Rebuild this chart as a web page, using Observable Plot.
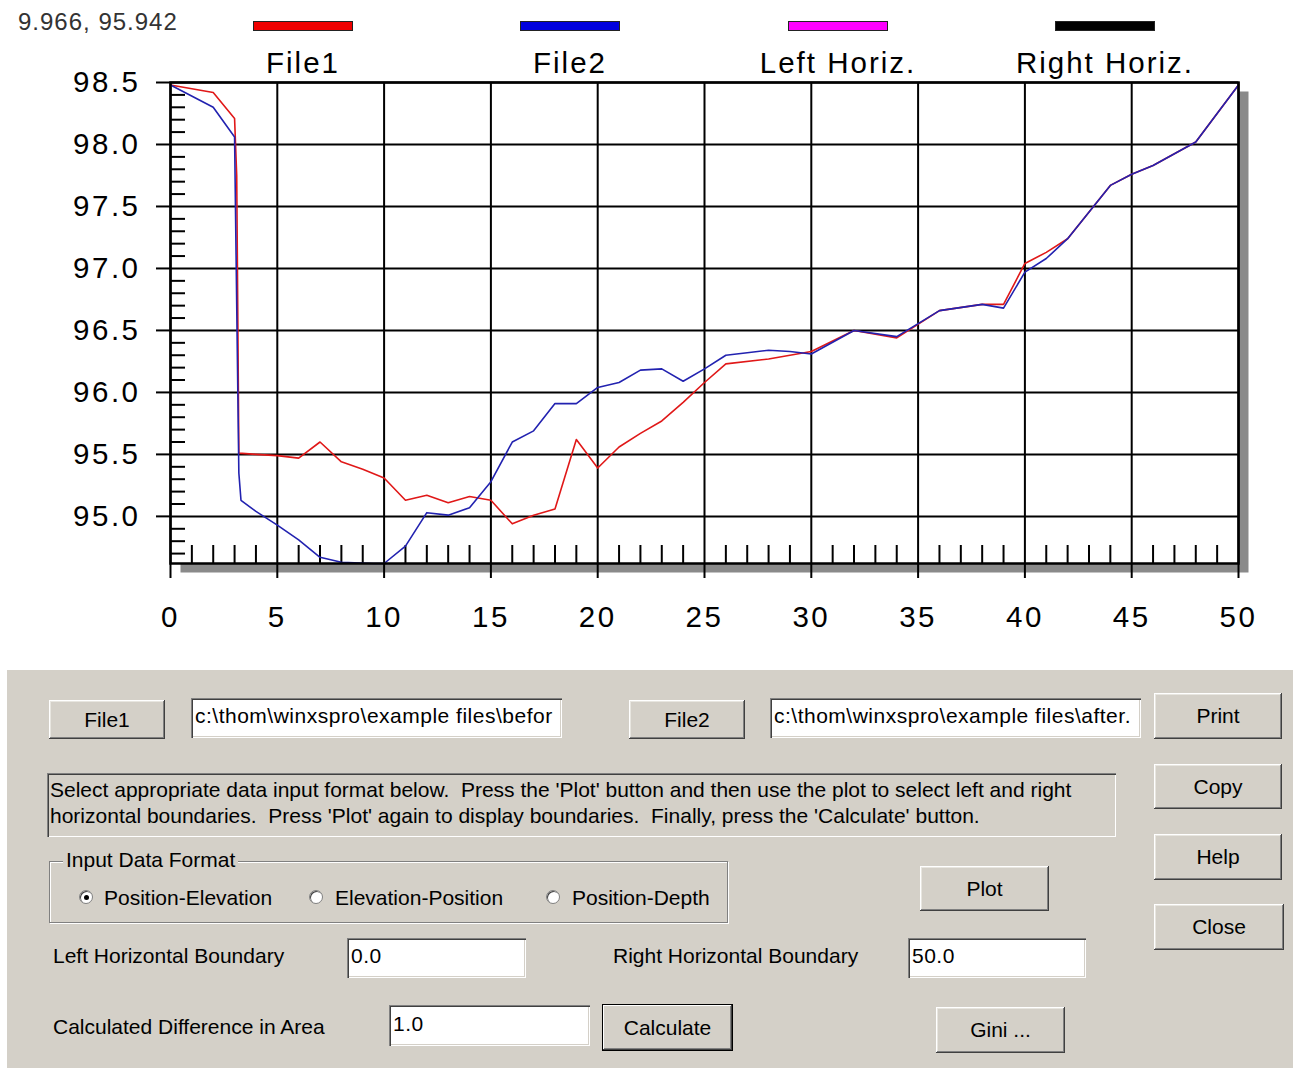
<!DOCTYPE html>
<html><head><meta charset="utf-8">
<script src="https://cdn.jsdelivr.net/npm/d3@7"></script>
<script src="https://cdn.jsdelivr.net/npm/@observablehq/plot@0.6"></script>
<style>
body{margin:0;background:#fff;font-family:"Liberation Sans",Arial,sans-serif;color:#000;}
#page{position:relative;width:1293px;height:1068px;overflow:hidden;background:#fff;}
#chart{position:absolute;left:0;top:0;}
#chart svg text{letter-spacing:2.5px;}
.abs{position:absolute;white-space:pre;}
#readout{position:absolute;left:18px;top:8px;font-size:24px;letter-spacing:1px;color:#333;}
.sw{position:absolute;top:21px;width:100px;height:10px;box-sizing:border-box;border:1px solid #222;}
.lg{position:absolute;top:44px;width:240px;text-align:center;font-size:29.5px;letter-spacing:2px;line-height:38px;}
#panel{position:absolute;left:7px;top:670px;width:1286px;height:398px;background:#d4d0c8;}
.btn{position:absolute;background:#d4d0c8;box-shadow:inset -1px -1px #404040,inset 1px 1px #ffffff,inset -2px -2px #808080,inset 2px 2px #e8e6e0;display:flex;align-items:center;justify-content:center;font-size:21px;}
.tb{position:absolute;background:#fff;box-sizing:border-box;box-shadow:inset 1px 1px #808080,inset 2px 2px #404040,inset -1px -1px #ffffff,inset -2px -2px #d4d0c8;font-size:21px;letter-spacing:0.5px;padding:0 0 4px 4px;display:flex;align-items:center;white-space:pre;overflow:hidden;}
.lbl{position:absolute;font-size:21px;height:26px;line-height:26px;white-space:pre;}
.radio{position:absolute;width:14px;height:14px;border-radius:50%;background:#fff;box-sizing:border-box;border:1px solid #808080;box-shadow:inset 1px 1px #404040;}
</style></head><body>
<div id="page">
  <div id="chart"></div>
  <div id="readout"></div>
  <div id="legend"></div>
  <div id="panel"></div>
  <div id="dialog"></div>
</div>
<script>
// ---- data ----
const xFile1 = [0,2,3,3.1,3.2,4,5,6,7,8,9,10,11,12,13,14,15,16,17,18,19,20,21,22,23,24,25,26,28,30,32,34,36,38,39,40,41,42,44,45,46,48,50];
const yFile1 = [98.48,98.42,98.21,97.75,95.51,95.50,95.49,95.47,95.60,95.44,95.38,95.31,95.13,95.17,95.11,95.16,95.13,94.94,95.01,95.06,95.62,95.39,95.56,95.67,95.77,95.92,96.08,96.23,96.27,96.33,96.50,96.44,96.66,96.71,96.71,97.04,97.13,97.24,97.67,97.76,97.83,98.02,98.48];
const xFile2 = [0,2,3,3.2,3.3,4,5,6,7,8,9.5,10,11,12,13,14,15,16,17,18,19,20,21,22,23,24,25,26,27,28,29,30,32,34,36,38,39,40,41,42,44,45,46,48,50];
const yFile2 = [98.48,98.30,98.06,95.35,95.13,95.04,94.93,94.81,94.67,94.63,94.62,94.62,94.76,95.03,95.01,95.07,95.28,95.60,95.69,95.91,95.91,96.04,96.08,96.18,96.19,96.09,96.19,96.30,96.32,96.34,96.33,96.31,96.50,96.45,96.66,96.71,96.68,96.97,97.08,97.24,97.67,97.76,97.83,98.02,98.48];
const xTicks = [0,5,10,15,20,25,30,35,40,45,50];
const yTicks = [95.0,95.5,96.0,96.5,97.0,97.5,98.0,98.5];
const xMinor = [1,2,3,4,6,7,8,9,11,12,13,14,16,17,18,19,21,22,23,24,26,27,28,29,31,32,33,34,36,37,38,39,41,42,43,44,46,47,48,49];
const yMinor = [94.7,94.8,94.9,95.1,95.2,95.3,95.4,95.6,95.7,95.8,95.9,96.1,96.2,96.3,96.4,96.6,96.7,96.8,96.9,97.1,97.2,97.3,97.4,97.6,97.7,97.8,97.9,98.1,98.2,98.3,98.4];
const legendLabels = ["File1","File2","Left Horiz.","Right Horiz."];
const legendColors = ["#ee0000","#0000dd","#ff00ff","#000000"];
const readout = "9.966, 95.942";

// ---- chart ----
const chart = Plot.plot({
  width: 1293, height: 660,
  marginLeft: 170, marginRight: 55, marginTop: 82, marginBottom: 97,
  x: {domain: [0, 50]},
  y: {domain: [94.62, 98.5]},
  style: {fontFamily: "Liberation Sans, Arial, sans-serif", fontSize: "29.5px", color: "black", background: "transparent", overflow: "visible"},
  marks: [
    Plot.frame({fill: "#8a8a8a", stroke: null, dx: 10, dy: 9}),
    Plot.frame({fill: "white"}),
    Plot.gridX(xTicks, {stroke: "black", strokeOpacity: 1, strokeWidth: 2}),
    Plot.gridY(yTicks, {stroke: "black", strokeOpacity: 1, strokeWidth: 2}),
    Plot.axisY(yMinor, {anchor: "left", tickSize: -15, tickFormat: () => "", strokeWidth: 2, label: null}),
    Plot.axisX(xMinor, {anchor: "bottom", tickSize: -18, tickFormat: () => "", strokeWidth: 2, label: null}),
    Plot.line(xFile1, {x: xFile1, y: yFile1, stroke: "#e01818", strokeWidth: 1.6}),
    Plot.line(xFile2, {x: xFile2, y: yFile2, stroke: "#2222b0", strokeWidth: 1.6}),
    Plot.frame({stroke: "black", strokeWidth: 2.5}),
    Plot.axisX(xTicks, {anchor: "bottom", tickSize: 15, tickPadding: 28, strokeWidth: 2, label: null}),
    Plot.axisY(yTicks, {anchor: "left", tickSize: 14, tickPadding: 16, strokeWidth: 2, tickFormat: d => d.toFixed(1), label: null})
  ]
});
document.getElementById("chart").append(chart);
document.getElementById("readout").textContent = readout;

// ---- legend ----
const legend = document.getElementById("legend");
const swLeft = [253, 520, 788, 1055];
legendLabels.forEach((t, i) => {
  const s = document.createElement("div");
  s.className = "sw"; s.style.left = swLeft[i] + "px"; s.style.background = legendColors[i];
  legend.append(s);
  const l = document.createElement("div");
  l.className = "lg"; l.style.left = (swLeft[i] + 50 - 120) + "px"; l.textContent = t;
  legend.append(l);
});

// ---- dialog ----
const dlg = document.getElementById("dialog");
function el(cls, x, y, w, h, text, extra) {
  const d = document.createElement("div");
  d.className = cls;
  d.style.left = x + "px"; d.style.top = y + "px";
  if (w != null) d.style.width = w + "px";
  if (h != null) d.style.height = h + "px";
  if (text != null) d.textContent = text;
  if (extra) Object.assign(d.style, extra);
  dlg.append(d);
  return d;
}
el("btn", 49, 700, 116, 39, "File1");
el("tb", 191, 698, 371, 40, "c:\\thom\\winxspro\\example files\\befor");
el("btn", 629, 700, 116, 39, "File2");
el("tb", 770, 698, 371, 40, "c:\\thom\\winxspro\\example files\\after.");
el("btn", 1154, 693, 128, 46, "Print");
el("btn", 1154, 764, 128, 45, "Copy");
el("btn", 1154, 834, 128, 46, "Help");
el("btn", 1154, 904, 130, 46, "Close");
el("abs", 47, 773, 1069, 64, null, {boxSizing: "border-box", boxShadow: "inset 1px 1px #808080, inset 2px 2px #404040, inset -1px -1px #ffffff"});
el("lbl", 50, 777, null, null, "Select appropriate data input format below.  Press the 'Plot' button and then use the plot to select left and right");
el("lbl", 50, 803, null, null, "horizontal boundaries.  Press 'Plot' again to display boundaries.  Finally, press the 'Calculate' button.");
el("abs", 49, 861, 679, 62, null, {boxSizing: "border-box", border: "1px solid #808080", boxShadow: "1px 1px #ffffff, inset 1px 1px #ffffff"});
el("lbl", 63, 847, null, null, "Input Data Format", {background: "#d4d0c8", padding: "0 3px"});
el("radio", 79, 890, null, null, null);
el("abs", 84, 895, 5, 5, null, {borderRadius: "50%", background: "#000"});
el("lbl", 104, 885, null, null, "Position-Elevation");
el("radio", 309, 890, null, null, null);
el("lbl", 335, 885, null, null, "Elevation-Position");
el("radio", 546, 890, null, null, null);
el("lbl", 572, 885, null, null, "Position-Depth");
el("btn", 920, 866, 129, 45, "Plot");
el("lbl", 53, 943, null, null, "Left Horizontal Boundary");
el("tb", 347, 938, 179, 40, "0.0");
el("lbl", 613, 943, null, null, "Right Horizontal Boundary");
el("tb", 908, 938, 178, 40, "50.0");
el("lbl", 53, 1014, null, null, "Calculated Difference in Area");
el("tb", 389, 1005, 201, 41, "1.0");
el("btn", 603, 1005, 129, 45, "Calculate", {boxShadow: "0 0 0 1px #000, inset -1px -1px #404040, inset 1px 1px #ffffff, inset -2px -2px #808080"});
el("btn", 936, 1007, 129, 46, "Gini ...");
</script>
</body></html>
